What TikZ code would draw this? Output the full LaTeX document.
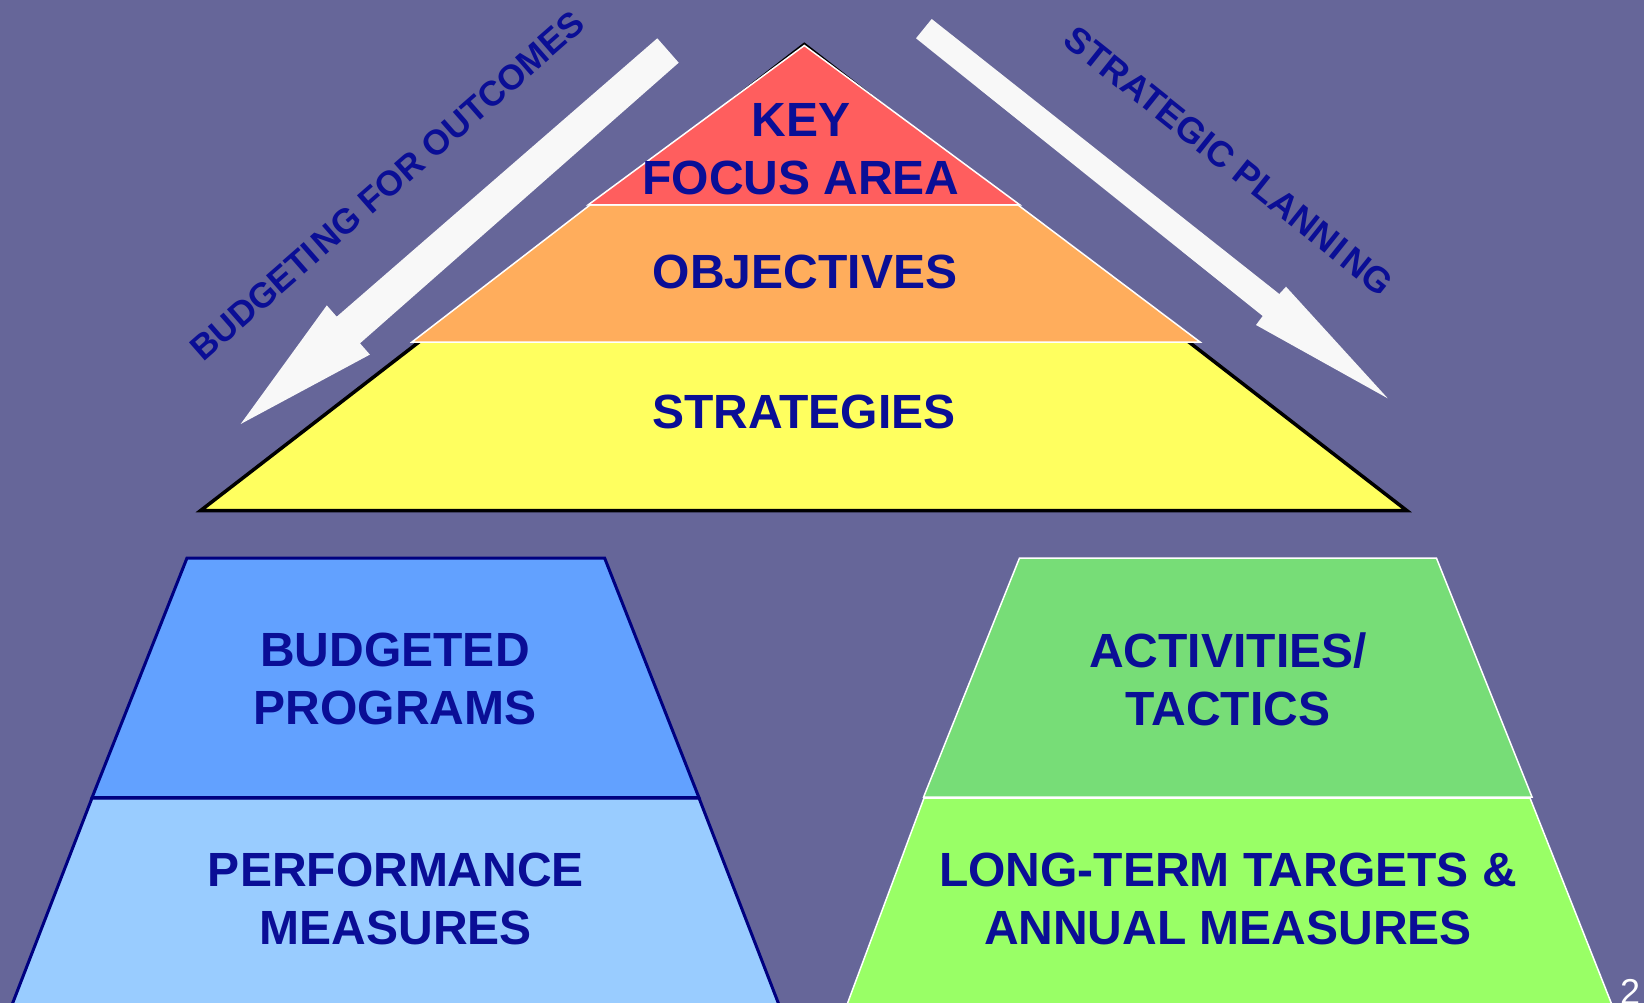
\documentclass[tikz,border=0pt]{standalone}
\usepackage{fontspec}
\setmainfont{Liberation Sans}
\definecolor{bgc}{RGB}{102,102,153}
\definecolor{txt}{RGB}{10,14,150}
\definecolor{redl}{RGB}{255,94,94}
\definecolor{orgl}{RGB}{255,173,92}
\definecolor{yell}{RGB}{255,255,95}
\definecolor{bluet}{RGB}{98,161,255}
\definecolor{blueb}{RGB}{153,204,255}
\definecolor{greent}{RGB}{119,221,119}
\definecolor{greenb}{RGB}{153,255,102}
\definecolor{navyl}{RGB}{0,0,128}
\definecolor{arrw}{RGB}{248,248,248}
\begin{document}
\begin{tikzpicture}[x=1pt,y=-1pt,
  lbl/.style={text=txt, inner sep=0pt, align=center, font=\fontsize{48}{58}\selectfont\bfseries},
  slbl/.style={text=txt, inner sep=0pt, font=\fontsize{35}{40}\selectfont\bfseries},
  layerw/.style={draw=white, line width=1.5pt, line join=miter},
  layern/.style={draw=navyl, line width=3pt, line join=miter},
  bigarrow/.style={fill=arrw}]
\fill[bgc] (0,0) rectangle (1644,1003);
\useasboundingbox (0,0) rectangle (1644,1003);
\begin{scope}
\clip (0,0) rectangle (1644,1003);
% big pyramid
\draw[fill=yell, line width=3.5pt, line join=miter] (804.3,44.5) -- (1406.7,510.5) -- (200.7,510.5) -- cycle;
\draw[layerw, fill=orgl] (590,205) -- (1018,205) -- (1200,342) -- (412,342) -- cycle;
\draw[layerw, fill=redl] (804.3,45.5) -- (1020,205) -- (588,205) -- cycle;
% arrows
\fill[bigarrow] (657.3,38.3) -- (678.7,62.7) -- (360,343.3) -- (369.9,354.6) -- (240.7,424) -- (326.8,305.4) -- (336.7,316.7) -- cycle;
\fill[bigarrow] (931.7,19) -- (1279.3,294) -- (1286,286.7) -- (1387.7,398.3) -- (1256,325) -- (1262.7,316) -- (916,38.3) -- cycle;
% left trapezoids
\draw[layern, fill=blueb] (92,798) -- (699,798) -- (781,1010) -- (10,1010) -- cycle;
\draw[layern, fill=bluet] (187,558) -- (604.6,558) -- (699,797.7) -- (92,797.7) -- cycle;
% right trapezoids
\draw[layerw, fill=greenb] (924,798) -- (1530,798) -- (1614,1010) -- (845,1010) -- cycle;
\draw[layerw, fill=greent] (1019.5,558) -- (1436.4,558) -- (1532,797) -- (923.6,797) -- cycle;
% labels
\node[lbl] (kfa) at (801,149.7) {KEY\\FOCUS AREA};
\node[lbl, anchor=base] (obj) at (805,288) {OBJECTIVES};
\node[lbl, anchor=base] (str) at (804,428) {STRATEGIES};
\node[lbl] (bp) at (395,679) {BUDGETED\\PROGRAMS};
\node[lbl] (pm) at (396,898.5) {PERFORMANCE\\MEASURES};
\node[lbl] (at) at (1228,679) {ACTIVITIES/\\TACTICS};
\node[lbl] (lt) at (1228,898.5) {LONG-TERM TARGETS \&\\ANNUAL MEASURES};
\node[slbl, rotate=41.2] (bfo) at (387,186) {BUDGETI\kern0.12em NG FOR OUTCOMES};
\node[slbl, font=\fontsize{36}{40}\selectfont\bfseries, rotate=-38.6] (sp) at (1229,161) {STRATEGIC PLANNI\kern0.12em NG};
\node[text=white, inner sep=0pt, anchor=base, font=\fontsize{36}{40}\selectfont] (pg) at (1630,1004) {2};
\end{scope}
\end{tikzpicture}
\end{document}
